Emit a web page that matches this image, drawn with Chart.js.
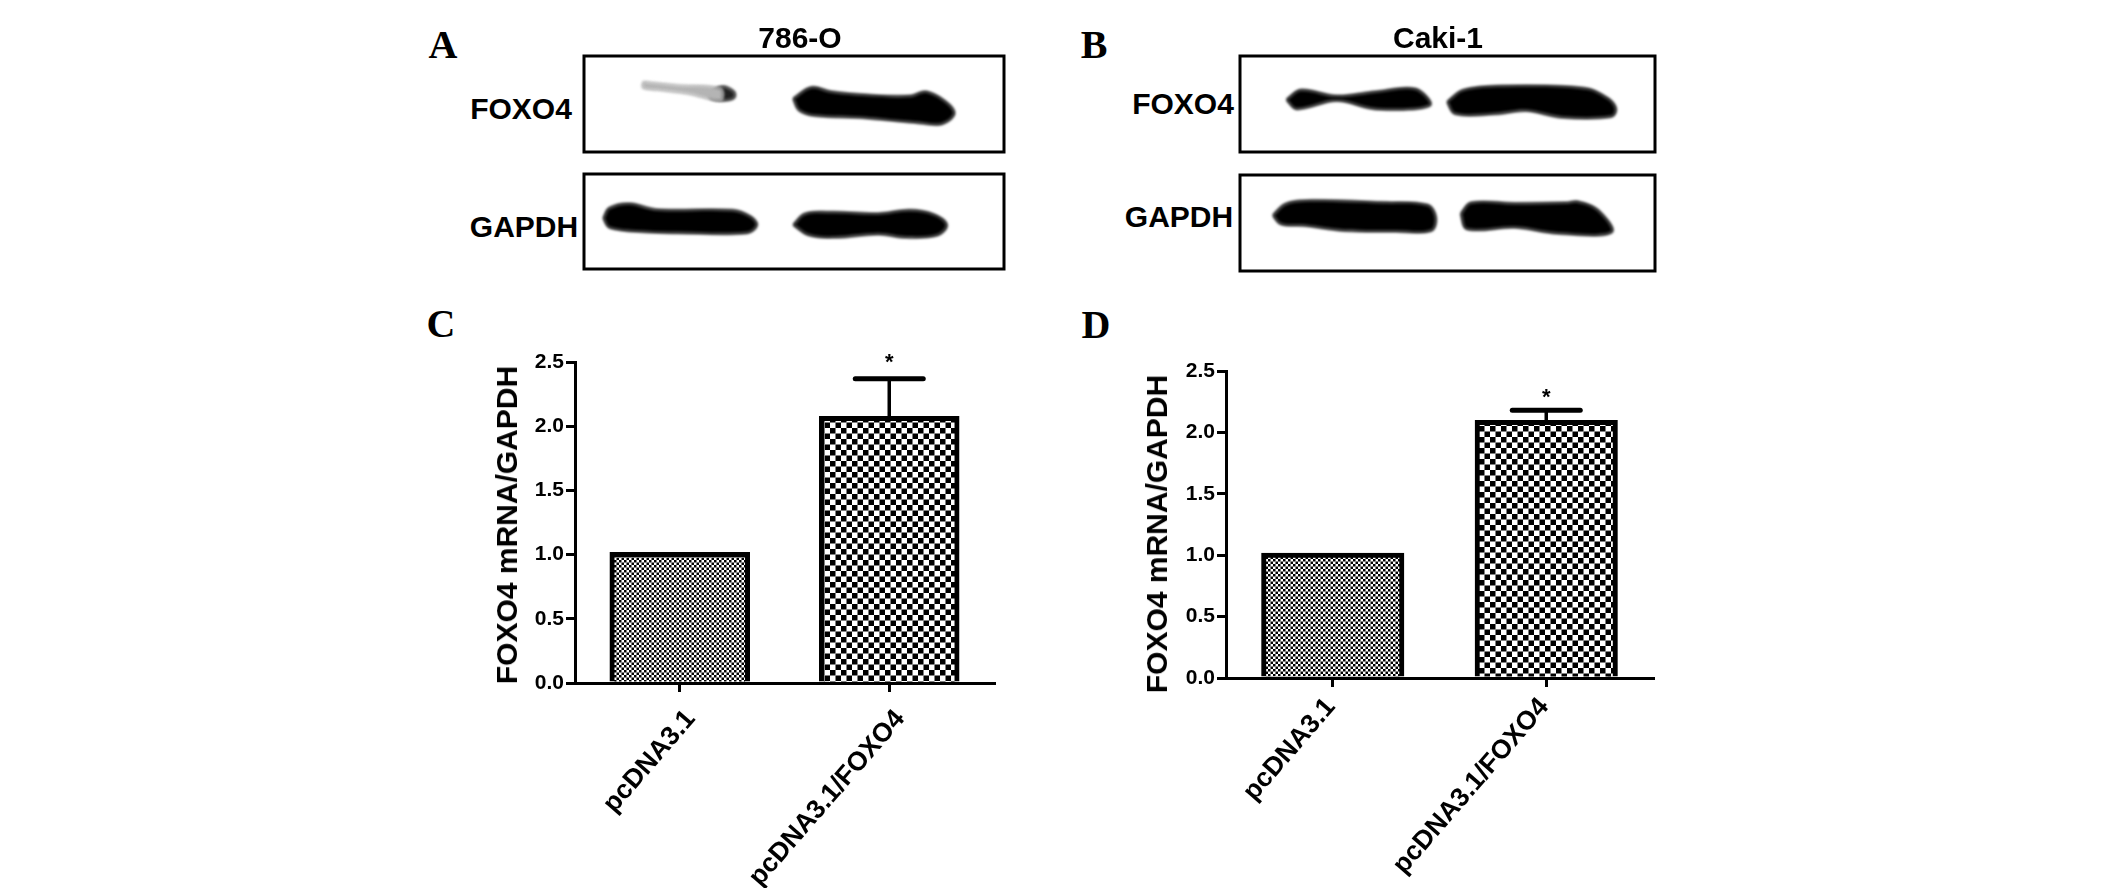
<!DOCTYPE html>
<html>
<head>
<meta charset="utf-8">
<title>FOXO4</title>
<script src="https://cdn.jsdelivr.net/npm/chart.js@4"></script>
<style>
    html, body { margin: 0; padding: 0; background: #fff; width: 2126px; height: 888px; overflow: hidden; }
    canvas { position: absolute; }
    .lbl { position: absolute; color: #000; white-space: nowrap; line-height: 1; transform: translate(-50%, -50%); }
    .sans { font: bold 30px "Liberation Sans", Arial, sans-serif; }
    .letter { font: bold 40px "Liberation Serif", "Times New Roman", serif; }
    .rot { transform: translate(-50%, -50%) rotate(-90deg); }
</style>
</head>
<body>
<script>
"use strict";
// bar panels
const categories = ['pcDNA3.1', 'pcDNA3.1/FOXO4'];
const yTickLabels = ['0.0', '0.5', '1.0', '1.5', '2.0', '2.5'];
const yTitle = 'FOXO4 mRNA/GAPDH';
const valuesC = [1.0, 2.06];
const upperC = [null, 2.37];
const signifC = ['', '*'];
const valuesD = [1.0, 2.08];
const upperD = [null, 2.18];
const signifD = ['', '*'];

const blotA1Tail = [[14.1, 27], [22.1, 30.6], [32.5, 34], [32.5, 46], [24.9, 39], [17.4, 35], [14.1, 33]];
const blotA1Head = [[30.1, 37.5], [33, 32], [35.7, 37.5], [35.7, 43.4], [33, 46], [30.1, 43.4]];
const blotA1Strong = [[49.9, 44.4], [54.1, 33], [58.8, 37.5], [67.3, 41], [77.6, 42], [81.4, 37.5], [86.1, 47.9], [88.1, 60], [85.1, 70.5], [78.6, 68.8], [67.3, 64.2], [55, 61.8], [51.3, 56.6]];
const blotA2Left = [[4.7, 46.5], [6.1, 36], [10.8, 31.5], [17.4, 37.8], [35.3, 38.5], [39.5, 44.8], [41.1, 53.5], [39, 61.5], [22.1, 61.5], [14.6, 60.5], [6.1, 56]];
const blotA2Right = [[49.9, 53.5], [52.7, 42], [59.7, 40.6], [70.1, 42], [77.6, 38.5], [83.3, 43], [86.3, 53.5], [84.2, 64], [76.7, 66.4], [70.1, 63], [59.7, 66.4], [53.6, 64]];
const blotB1Left = [[11.3, 45.5], [14.7, 35.8], [23.3, 42], [32.8, 37.5], [42.3, 34.7], [45.7, 51.4], [32.8, 54.9], [23.3, 46.2], [13.7, 54.9]];
const blotB1Right = [[50, 47.9], [53.8, 35.8], [63.3, 31.6], [83.3, 34], [88.6, 44.4], [90.5, 54.9], [89.5, 62.8], [77.6, 63.5], [69, 56.6], [61.4, 60], [51.9, 60]];
const blotB2Left = [[8, 42], [10.9, 30.6], [15.6, 27], [34.7, 29], [45.2, 31.6], [47.1, 43.8], [46.1, 57.6], [37.6, 58.3], [25.2, 57.6], [15.6, 52.4], [9.9, 50.7]];
const blotB2Right = [[53.3, 40.3], [55.7, 29.2], [66.2, 29.9], [78.6, 29.2], [81.4, 28.1], [86.2, 36.8], [89.5, 59.4], [76.6, 60.4], [66.2, 54.2], [54.7, 55.9]];

const FONT = '"Liberation Sans", Arial, sans-serif';

function addCanvas(left, top, width, height) {
    let c = document.createElement('canvas');
    c.width = width;
    c.height = height;
    c.style.left = left + 'px';
    c.style.top = top + 'px';
    c.style.width = width + 'px';
    c.style.height = height + 'px';
    document.body.append(c);
    return c;
}

function addLabel(text, x, y, cls) {
    let d = document.createElement('div');
    d.className = 'lbl ' + cls;
    d.textContent = text;
    d.style.left = x + 'px';
    d.style.top = y + 'px';
    document.body.append(d);
}

function checker(period) {
    let p = document.createElement('canvas');
    p.width = period;
    p.height = period;
    let g = p.getContext('2d');
    g.fillStyle = '#fff';
    g.fillRect(0, 0, period, period);
    g.fillStyle = '#000';
    g.fillRect(0, 0, period / 2, period / 2);
    g.fillRect(period / 2, period / 2, period / 2, period / 2);
    return g.createPattern(p, 'repeat');
}

// box round each blot
const framePlugin = {
    id: 'frame',
    afterDraw(chart) {
        const a = chart.chartArea;
        const ctx = chart.ctx;
        ctx.save();
        ctx.strokeStyle = '#000';
        ctx.lineWidth = 3;
        ctx.strokeRect(a.left, a.top, a.right - a.left, a.bottom - a.top);
        ctx.restore();
    }
};

// soft edges on the bands
const blurPlugin = {
    id: 'blur',
    beforeDatasetsDraw(chart) {
        chart.ctx.save();
        chart.ctx.filter = 'blur(1.6px)';
    },
    afterDatasetsDraw(chart) {
        chart.ctx.restore();
    }
};

function bandDataset(points, color) {
    let closed = points.concat([points[0]]);
    return {
        data: closed.map(p => ({ x: p[0], y: p[1] })),
        showLine: true,
        fill: 'shape',
        tension: 0.35,
        pointRadius: 0,
        borderWidth: 2,
        borderColor: color,
        backgroundColor: color
    };
}

function blotChart(left, top, width, height, bands) {
    const pad = 3;
    let canvas = addCanvas(left - pad, top - pad, width + 2 * pad, height + 2 * pad);
    return new Chart(canvas, {
        type: 'scatter',
        data: { datasets: bands },
        options: {
            responsive: false,
            animation: false,
            layout: { padding: pad },
            plugins: { legend: { display: false }, tooltip: { enabled: false } },
            scales: {
                x: { display: false, min: 0, max: 100 },
                y: { display: false, min: 0, max: 100, reverse: true }
            }
        },
        plugins: [blurPlugin, framePlugin]
    });
}

// whiskers and the star above them
const errorPlugin = {
    id: 'errors',
    afterDatasetsDraw(chart, args, opts) {
        const ctx = chart.ctx;
        const y = chart.scales.y;
        const meta = chart.getDatasetMeta(0);
        ctx.save();
        ctx.strokeStyle = '#000';
        ctx.fillStyle = '#000';
        opts.upper.forEach((u, i) => {
            if (u === null) return;
            const bar = meta.data[i];
            const py = y.getPixelForValue(u);
            ctx.lineWidth = 3.5;
            ctx.beginPath();
            ctx.moveTo(bar.x, bar.y);
            ctx.lineTo(bar.x, py);
            ctx.stroke();
            ctx.lineWidth = 5;
            ctx.lineCap = 'round';
            ctx.beginPath();
            ctx.moveTo(bar.x - 34, py);
            ctx.lineTo(bar.x + 34, py);
            ctx.stroke();
            ctx.lineCap = 'butt';
            ctx.font = 'bold 22px ' + FONT;
            ctx.textAlign = 'center';
            ctx.textBaseline = 'middle';
            ctx.fillText(opts.signif[i], bar.x, py - opts.gap);
        });
        ctx.restore();
    }
};

function barChart(left, top, width, height, area, values, upper, signif, look) {
    let canvas = addCanvas(left, top, width, height);
    return new Chart(canvas, {
        type: 'bar',
        data: {
            labels: categories,
            datasets: [{
                data: values,
                backgroundColor: [checker(5), checker(11)],
                borderColor: '#000',
                borderWidth: 5,
                inflateAmount: 2.5,
                borderSkipped: 'bottom',
                barPercentage: 0.647,
                categoryPercentage: 1
            }]
        },
        options: {
            responsive: false,
            animation: false,
            layout: { padding: { top: area.top - top, right: left + width - area.right, left: 0, bottom: 0 } },
            plugins: {
                legend: { display: false },
                tooltip: { enabled: false },
                errors: { upper: upper, signif: signif, gap: look.starGap }
            },
            scales: {
                x: {
                    afterFit: s => { s.height = top + height - area.bottom; },
                    border: { color: '#000', width: 3 },
                    grid: { display: true, offset: false, drawOnChartArea: false, color: '#000', lineWidth: 3, tickLength: 9 },
                    ticks: {
                        color: '#000',
                        font: { family: FONT, size: 26.5, weight: 'bold' },
                        minRotation: 49,
                        maxRotation: 49,
                        padding: look.labelDown,
                        labelOffset: look.labelRight
                    }
                },
                y: {
                    min: 0,
                    max: 2.5,
                    afterFit: s => { s.width = area.left - left; },
                    border: { color: '#000', width: 3 },
                    grid: { display: true, drawOnChartArea: false, color: '#000', lineWidth: 3, tickLength: 9 },
                    ticks: {
                        stepSize: 0.5,
                        color: '#000',
                        padding: 2,
                        font: { family: FONT, size: 21, weight: 'bold' },
                        callback: (v, i) => yTickLabels[i]
                    }
                }
            }
        },
        plugins: [errorPlugin]
    });
}

blotChart(584, 56, 420, 96, [bandDataset(blotA1Tail, '#b4b4b4'), bandDataset(blotA1Head, '#222'), bandDataset(blotA1Strong, '#000')]);
blotChart(584, 174, 420, 95, [bandDataset(blotA2Left, '#000'), bandDataset(blotA2Right, '#000')]);
blotChart(1240, 56, 415, 96, [bandDataset(blotB1Left, '#000'), bandDataset(blotB1Right, '#000')]);
blotChart(1240, 175, 415, 96, [bandDataset(blotB2Left, '#000'), bandDataset(blotB2Right, '#000')]);

barChart(489, 340, 511, 548, { left: 575, right: 994, top: 362, bottom: 683 }, valuesC, upperC, signifC,
    { starGap: 16, labelDown: 12, labelRight: 11 });
barChart(1138, 349, 522, 539, { left: 1226, right: 1653, top: 371, bottom: 678 }, valuesD, upperD, signifD,
    { starGap: 12, labelDown: 5, labelRight: -2 });

addLabel('A', 443, 44, 'letter');
addLabel('B', 1094, 44, 'letter');
addLabel('C', 441, 323, 'letter');
addLabel('D', 1096, 324, 'letter');
addLabel('786-O', 800, 38, 'sans');
addLabel('Caki-1', 1438, 38, 'sans');
addLabel('FOXO4', 521, 109, 'sans');
addLabel('GAPDH', 524, 227, 'sans');
addLabel('FOXO4', 1183, 104, 'sans');
addLabel('GAPDH', 1179, 217, 'sans');
addLabel(yTitle, 507, 525, 'sans rot');
addLabel(yTitle, 1157, 534, 'sans rot');
</script>
</body>
</html>
